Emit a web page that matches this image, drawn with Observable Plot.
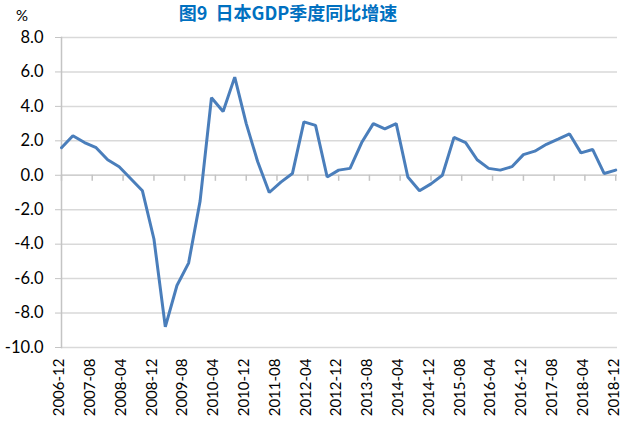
<!DOCTYPE html>
<html><head><meta charset="utf-8">
<script src="https://cdn.jsdelivr.net/npm/d3@7"></script>
<script src="https://cdn.jsdelivr.net/npm/@observablehq/plot@0.6"></script>
<style>
body{margin:0;background:#fff;}
#wrap{position:relative;width:622px;height:423px;overflow:hidden;}
#title{position:absolute;left:0;width:576px;top:-1px;text-align:center;font:bold 18px "Noto Sans CJK SC";color:#0070c0;white-space:pre;z-index:2;}
#unit{position:absolute;left:16px;top:6px;font:15px Lato;color:#000;z-index:2;}
#chart{position:absolute;left:0;top:0;}
</style></head><body>
<div id="wrap"><div id="title">图9  日本GDP季度同比增速</div><div id="unit">%</div><div id="chart"></div></div>
<script>
const quarters = ["2006-12","2007-03","2007-06","2007-09","2007-12","2008-03","2008-06","2008-09","2008-12",
"2009-03","2009-06","2009-09","2009-12","2010-03","2010-06","2010-09","2010-12",
"2011-03","2011-06","2011-09","2011-12","2012-03","2012-06","2012-09","2012-12",
"2013-03","2013-06","2013-09","2013-12","2014-03","2014-06","2014-09","2014-12",
"2015-03","2015-06","2015-09","2015-12","2016-03","2016-06","2016-09","2016-12",
"2017-03","2017-06","2017-09","2017-12","2018-03","2018-06","2018-09","2018-12"];
const growth = [1.6,2.3,1.9,1.6,0.9,0.5,-0.2,-0.9,-3.7,
-8.8,-6.4,-5.1,-1.5,4.5,3.7,5.7,3.0,
0.8,-1.0,-0.4,0.1,3.1,2.9,-0.1,0.3,
0.4,1.9,3.0,2.7,3.0,-0.1,-0.9,-0.5,
0.0,2.2,1.9,0.9,0.4,0.3,0.5,1.2,
1.4,1.8,2.1,2.4,1.3,1.5,0.1,0.3];
const tickLabels = ["2006-12","2007-08","2008-04","2008-12","2009-08","2010-04","2010-12","2011-08","2012-04","2012-12",
"2013-08","2014-04","2014-12","2015-08","2016-04","2016-12","2017-08","2018-04","2018-12"];
const yTicks = [-10,-8,-6,-4,-2,0,2,4,6,8];

const parse = d3.utcParse("%Y-%m");
const data = quarters.map((q, i) => ({date: parse(q), value: growth[i]}));
const tickDates = tickLabels.map(parse);
const xStart = parse(quarters[0]);
const xEnd = d3.utcDay.offset(parse(quarters[quarters.length - 1]), 14);

const chart = Plot.plot({
  width: 622, height: 423,
  marginTop: 37, marginBottom: 76, marginLeft: 61, marginRight: 5,
  style: {fontFamily: "Lato", fontSize: "16.5px", color: "#000", background: "transparent", overflow: "visible"},
  x: {type: "utc", domain: [xStart, xEnd]},
  y: {domain: [-10, 8]},
  marks: [
    Plot.ruleY(yTicks, {stroke: "#d9d9d9", strokeWidth: 1.5}),
    Plot.ruleY([0], {stroke: "#cfcfcf", strokeWidth: 1.5}),
    Plot.ruleX(tickDates, {x: d => d, y1: 0, y2: -0.35, stroke: "#c4c4c4", strokeWidth: 1.5}),
    Plot.frame({anchor: "left", stroke: "#c4c4c4", strokeWidth: 1.5}),
    Plot.axisY({ticks: yTicks, tickFormat: d => d.toFixed(1), tickSize: 6, tickPadding: 12, stroke: "#c4c4c4", fill: "#000", label: null}),
    Plot.axisX({ticks: tickDates, tickFormat: d3.utcFormat("%Y-%m"), tickSize: 0, tickRotate: -90, tickPadding: 11, fontSize: 15, dx: -2, fill: "#000", label: null}),
    Plot.lineY(data, {x: "date", y: "value", stroke: "#4a7ebb", strokeWidth: 3, strokeLinejoin: "miter"})
  ]
});
document.getElementById("chart").appendChild(chart);
</script>
</body></html>
